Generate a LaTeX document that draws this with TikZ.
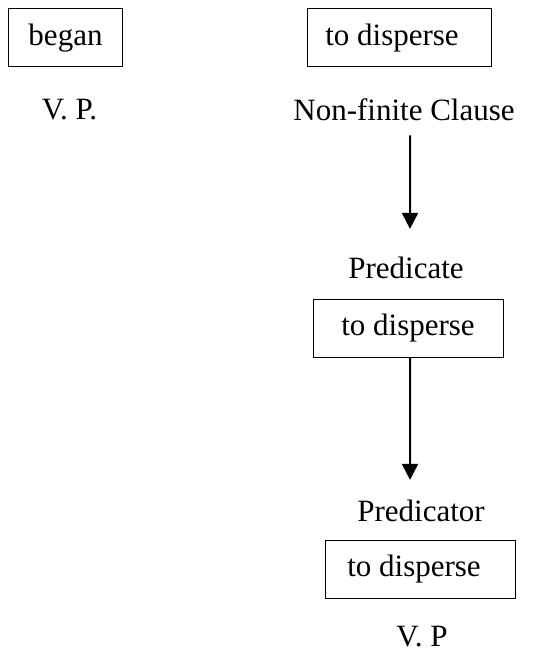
\documentclass[tikz,border=0pt]{standalone}
\usepackage{fontspec}
\setmainfont{Liberation Serif}
\usetikzlibrary{arrows.meta}
\begin{document}
\begin{tikzpicture}[x=1bp,y=-1bp,
  lbl/.style={inner sep=0pt,font=\fontsize{31bp}{36bp}\selectfont},
  wbox/.style={draw,line width=1bp,inner sep=0pt,minimum height=58bp,font=\fontsize{31bp}{36bp}\selectfont},
  arr/.style={line width=2bp,-{Triangle[length=16bp,width=16bp]}}]
\useasboundingbox (0,0) rectangle (539,655);
\node[wbox,minimum width=113bp] (b1) at (65.5,38) {began};
\node[wbox,minimum width=184bp] (b2) at (399,38) {to disperse\kern14bp};
\node[lbl] (vp1) at (69.5,110) {V. P.};
\node[lbl] (nfc) at (404,110) {Non-finite Clause};
\node[lbl] (pred) at (406,268) {Predicate};
\node[wbox,minimum width=190bp] (b3) at (408,328) {to disperse};
\node[lbl] (predr) at (421,511) {Predicator};
\node[wbox,minimum width=190bp] (b4) at (420,569) {to disperse\kern12bp};
\node[lbl] (vp2) at (422,637) {V. P};
\draw[arr] ([xshift=6bp,yshift=-14bp]nfc.south) -- ([xshift=4bp,yshift=28bp]pred.north);
\draw[arr] ([xshift=2bp]b3.south) -- ([xshift=-11bp,yshift=20bp]predr.north);
\end{tikzpicture}
\end{document}
